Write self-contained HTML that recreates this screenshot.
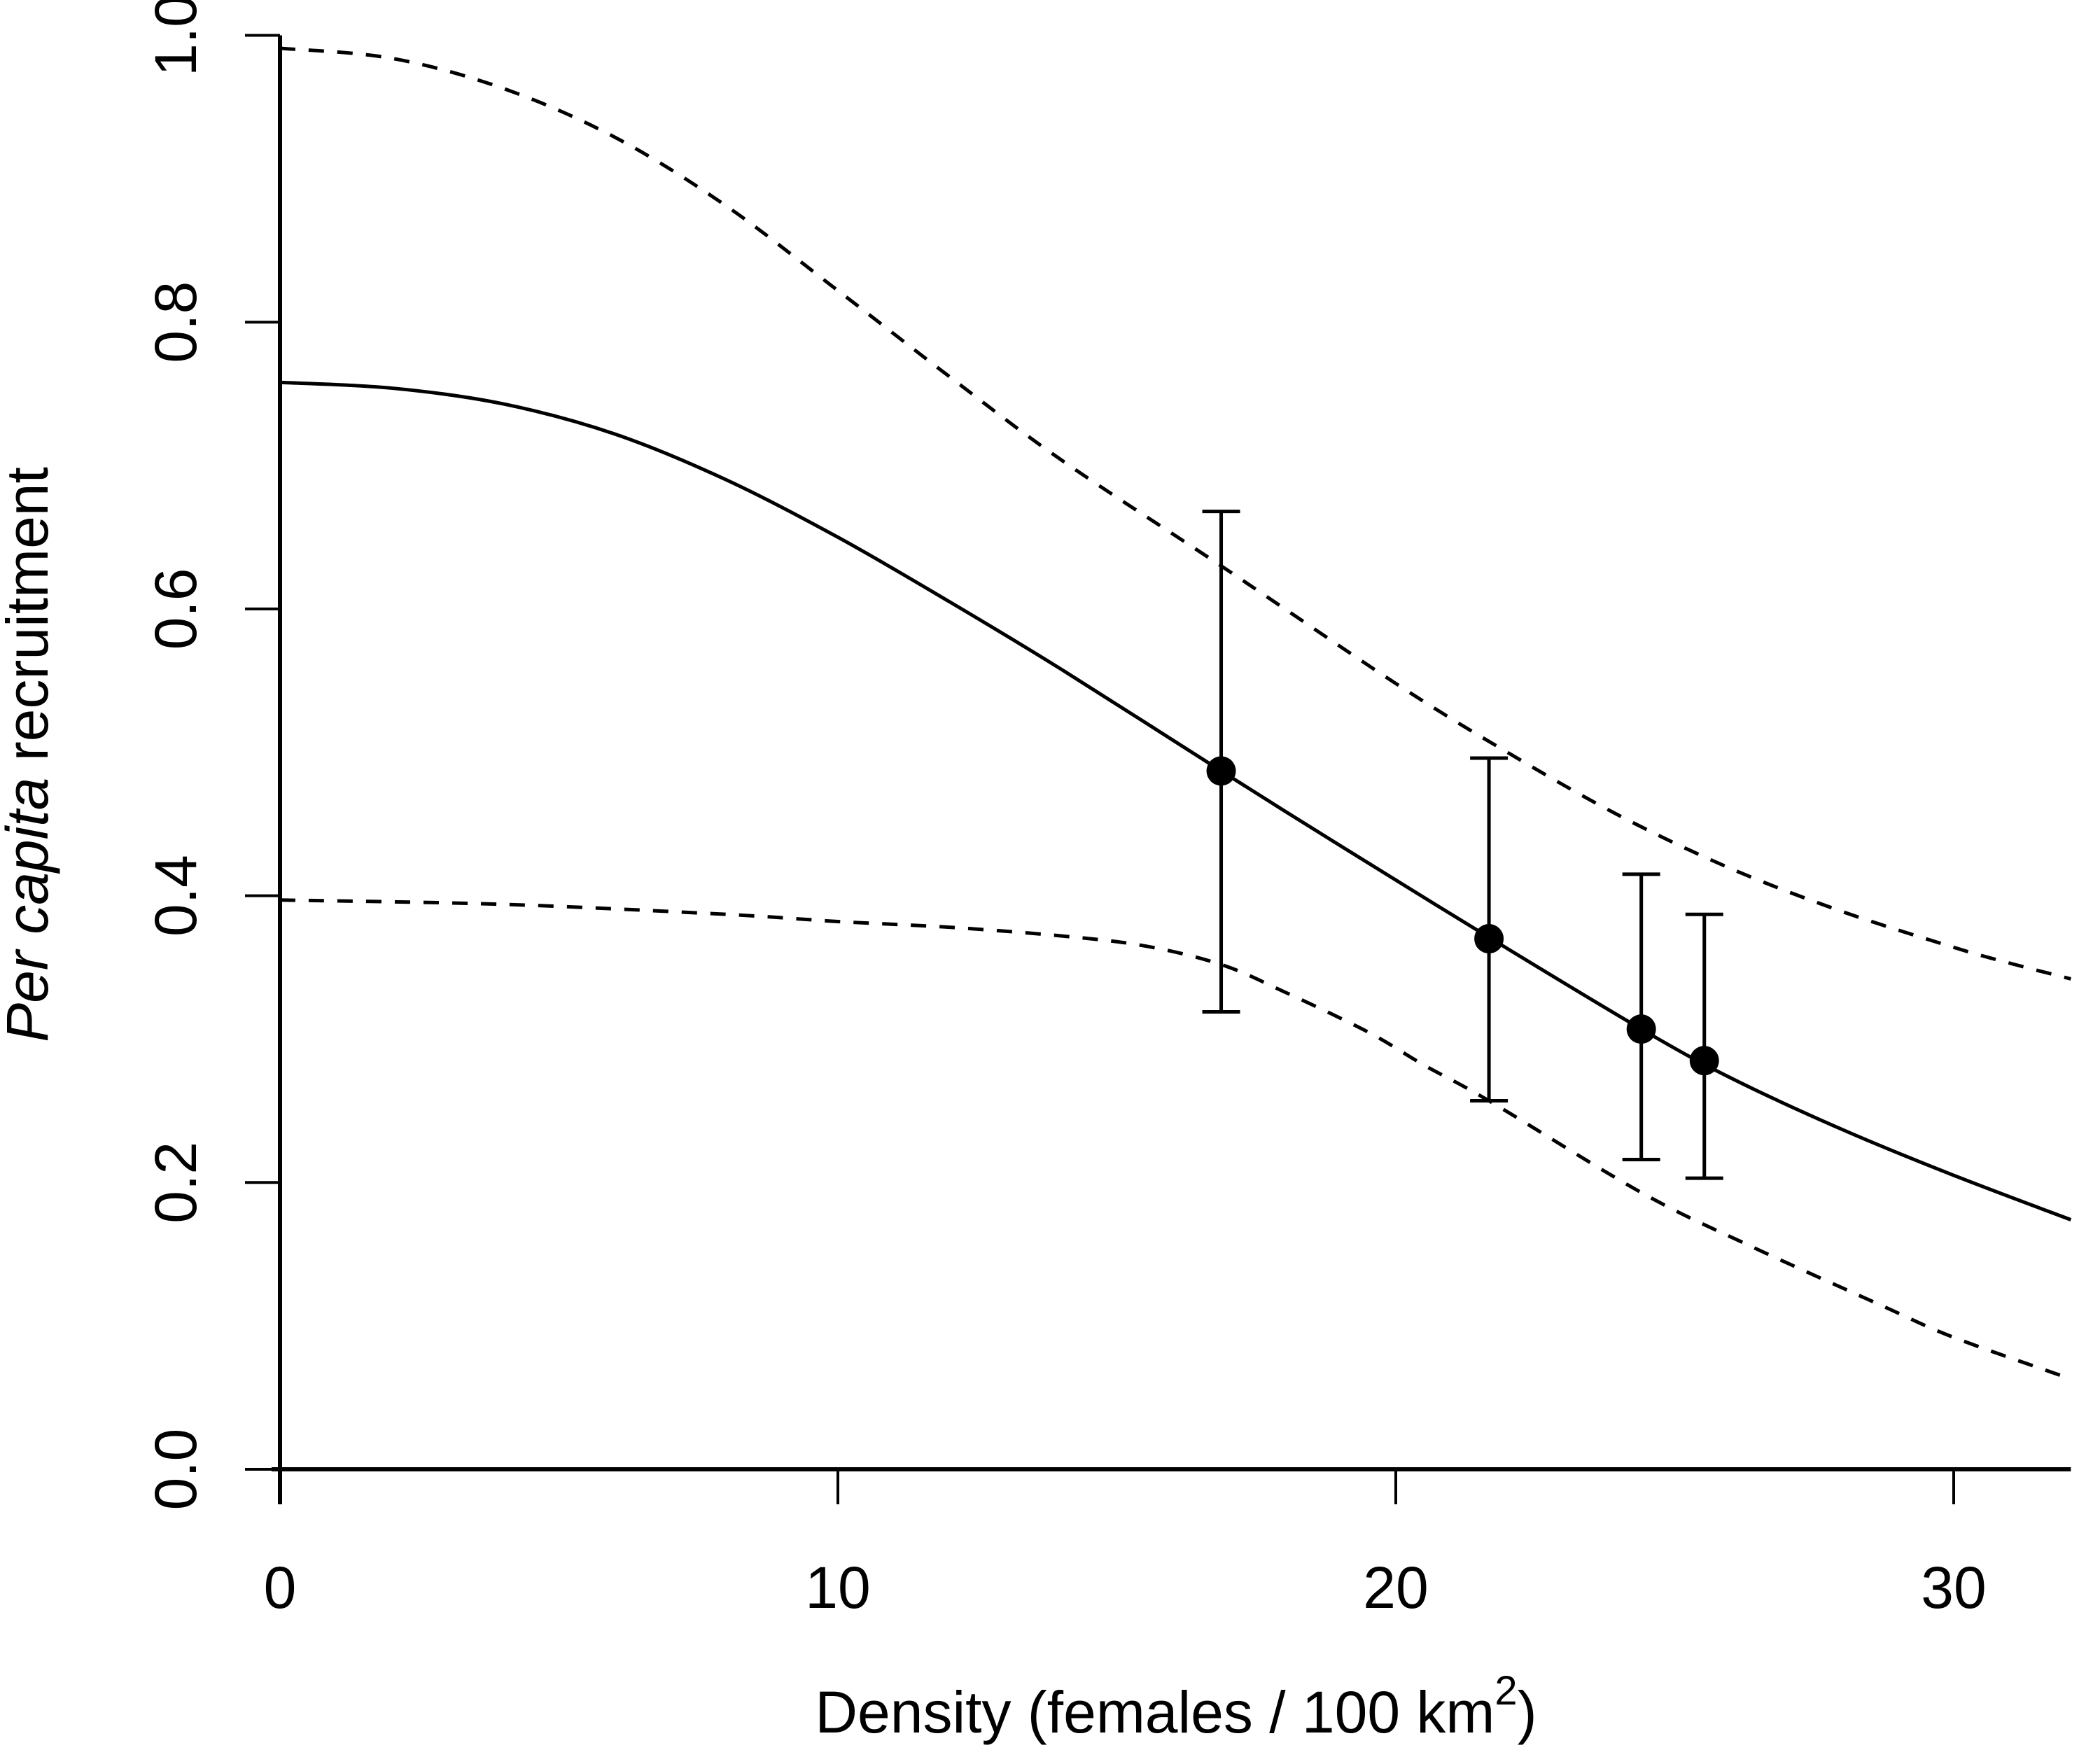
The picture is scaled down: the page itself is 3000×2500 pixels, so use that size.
<!DOCTYPE html>
<html><head><meta charset="utf-8">
<style>
html,body{margin:0;padding:0;background:#fff;}
svg{display:block;}
text{font-family:"Liberation Sans",Arial,sans-serif;fill:#000;}
</style></head>
<body>
<svg id="chart" width="3000" height="2500" viewBox="0 0 3000 2500" xmlns="http://www.w3.org/2000/svg">
<g id="axes"></g>
<g id="series"></g>
<text x="1680" y="2475" font-size="84" text-anchor="middle">Density (females / 100 km<tspan font-size="58" dy="-40">2</tspan><tspan dy="40">)</tspan></text>
<text transform="translate(68,1078) rotate(-90)" font-size="84" text-anchor="middle"><tspan font-style="italic">Per capita</tspan> recruitment</text>
</svg>
<script>
const xTicks = [0, 10, 20, 30];
const yTicks = [0.0, 0.2, 0.4, 0.6, 0.8, 1.0];
const yTickLabels = ["0.0", "0.2", "0.4", "0.6", "0.8", "1.0"];
const fitX = [0, 2, 4, 6, 8, 10, 12, 14, 16.87, 19, 21.71, 24.4, 26, 28, 30, 32.1];
const fitY = [0.758, 0.754, 0.743, 0.722, 0.690, 0.650, 0.605, 0.558, 0.487, 0.435, 0.370, 0.307, 0.273, 0.237, 0.205, 0.174];
const upperX = [0, 2, 4, 6, 8, 10, 12, 14, 16.87, 20, 22, 24, 26, 28, 30, 31, 32.1];
const upperY = [0.991, 0.984, 0.963, 0.929, 0.881, 0.822, 0.762, 0.704, 0.630, 0.548, 0.500, 0.456, 0.419, 0.389, 0.364, 0.353, 0.342];
const lowerX = [0, 4, 8, 10, 12, 14, 15.5, 16.87, 18, 19.5, 20.5, 21.67, 24.4, 26.34, 28.72, 30, 32.1];
const lowerY = [0.397, 0.394, 0.387, 0.382, 0.378, 0.372, 0.365, 0.352, 0.333, 0.305, 0.282, 0.257, 0.193, 0.156, 0.114, 0.092, 0.063];
const obsX = [16.87, 21.67, 24.40, 25.53];
const obsY = [0.487, 0.370, 0.307, 0.285];
const obsHi = [0.668, 0.496, 0.415, 0.387];
const obsLo = [0.319, 0.257, 0.216, 0.203];

const X0 = 400, XS = 79.7, Y0 = 2099, YS = 2048.5, XMAX = 32.1;
function sx(v){ return X0 + v * XS; }
function sy(v){ return Y0 - v * YS; }
const NS = "http://www.w3.org/2000/svg";
function mk(tag, attrs, parent){
  const e = document.createElementNS(NS, tag);
  for (const k in attrs) e.setAttribute(k, attrs[k]);
  parent.appendChild(e);
  return e;
}
const axes = document.getElementById('axes');
const series = document.getElementById('series');

const xAxis = mk('line', {x1: sx(0) - 12, y1: sy(0), x2: sx(XMAX), y2: sy(0), stroke: '#000', 'stroke-width': 6}, axes);


const yAxis = mk('line', {x1: sx(0), y1: sy(1.0), x2: sx(0), y2: sy(0) + 50, stroke: '#000', 'stroke-width': 6}, axes);



xTicks.forEach(function(t){
  const tk = mk('line', {x1: sx(t), y1: sy(0), x2: sx(t), y2: sy(0) + 50, stroke: '#000', 'stroke-width': 4}, axes);
  
  
  const lb = mk('text', {x: sx(t), y: sy(0) + 198, 'font-size': 84, 'text-anchor': 'middle'}, axes);
  lb.textContent = String(t);
  
  
});
yTicks.forEach(function(t, i){
  const tk = mk('line', {x1: sx(0) - 50, y1: sy(t), x2: sx(0), y2: sy(t), stroke: '#000', 'stroke-width': 4}, axes);
  
  
  const lb = mk('text', {transform: 'translate(' + (sx(0) - 120) + ',' + sy(t) + ') rotate(-90)', 'font-size': 84, 'text-anchor': 'middle'}, axes);
  lb.textContent = yTickLabels[i];
  
  
});

function smoothPath(xs, ys){
  const p = xs.map(function(x, i){ return [sx(x), sy(ys[i])]; });
  let d = 'M' + p[0][0] + ',' + p[0][1];
  for (let i = 0; i < p.length - 1; i++){
    const p0 = p[i - 1] || p[i], p1 = p[i], p2 = p[i + 1], p3 = p[i + 2] || p2;
    const c1 = [p1[0] + (p2[0] - p0[0]) / 6, p1[1] + (p2[1] - p0[1]) / 6];
    const c2 = [p2[0] - (p3[0] - p1[0]) / 6, p2[1] - (p3[1] - p1[1]) / 6];
    d += ' C' + c1[0] + ',' + c1[1] + ' ' + c2[0] + ',' + c2[1] + ' ' + p2[0] + ',' + p2[1];
  }
  return d;
}
const fit = mk('path', {d: smoothPath(fitX, fitY), fill: 'none', stroke: '#000', 'stroke-width': 5}, series);


const up = mk('path', {d: smoothPath(upperX, upperY), fill: 'none', stroke: '#000', 'stroke-width': 5, 'stroke-dasharray': '22 19'}, series);


const lo = mk('path', {d: smoothPath(lowerX, lowerY), fill: 'none', stroke: '#000', 'stroke-width': 5, 'stroke-dasharray': '22 19'}, series);



obsX.forEach(function(x, i){
  const g = mk('g', {}, series);
  
  
  const cx = sx(x);
  mk('line', {x1: cx, y1: sy(obsHi[i]), x2: cx, y2: sy(obsLo[i]), stroke: '#000', 'stroke-width': 5}, g);
  mk('line', {x1: cx - 27, y1: sy(obsHi[i]), x2: cx + 27, y2: sy(obsHi[i]), stroke: '#000', 'stroke-width': 5}, g);
  mk('line', {x1: cx - 27, y1: sy(obsLo[i]), x2: cx + 27, y2: sy(obsLo[i]), stroke: '#000', 'stroke-width': 5}, g);
  const c = mk('circle', {cx: cx, cy: sy(obsY[i]), r: 21, fill: '#000'}, g);
  
  
});
</script>
</body></html>
